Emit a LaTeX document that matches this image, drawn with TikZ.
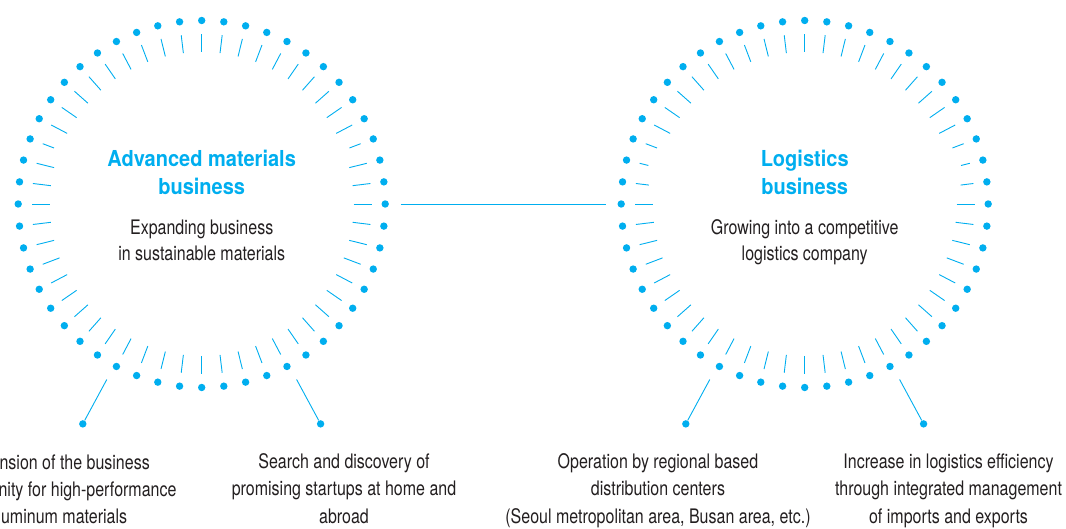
\documentclass[tikz,border=0pt]{standalone}
\usepackage{fontspec}
\newfontfamily\bodyfont{TeX Gyre Heros}[FakeStretch=0.80]
\newfontfamily\titlefont{TeX Gyre Heros}[FakeStretch=0.91]
\definecolor{cyanblue}{RGB}{0,174,239}
\definecolor{ink}{RGB}{35,31,32}
\begin{document}
\begin{tikzpicture}[x=1pt,y=1pt,
  dot/.style={circle,fill=cyanblue,inner sep=0pt,minimum size=7.4pt},
  tick/.style={draw=cyanblue,line width=0.9pt},
  link/.style={draw=cyanblue,line width=0.9pt},
  title/.style={font=\titlefont\bfseries\fontsize{22}{28.5}\selectfont,text=cyanblue,align=center,inner sep=0pt},
  sub/.style={font=\bodyfont\fontsize{20}{26.5}\selectfont,text=ink,align=center,inner sep=0pt},
  note/.style={font=\bodyfont\fontsize{20}{27.3}\selectfont,text=ink,align=center,inner sep=0pt}]
\useasboundingbox (0,0) rectangle (1066,529);
\coordinate (L) at (201.7,325);
\coordinate (R) at (804.7,325);
% left ring
\foreach \k in {0,...,51} {
  \pgfmathsetmacro\a{90-\k*6.9230769}
  \pgfmathsetmacro\rin{ifthenelse(or(equal(\k,10),equal(\k,42)),158,152)}
  \node[dot] (ld\k) at ([shift={(\a:183.5)}]L) {};
  \draw[tick] ([shift={(\a:\rin)}]L) -- ([shift={(\a:170)}]L);
}
% right ring
\foreach \k in {0,...,51} {
  \pgfmathsetmacro\a{90-\k*6.9230769}
  \pgfmathsetmacro\rin{ifthenelse(or(equal(\k,10),equal(\k,42)),158,ifthenelse(or(equal(\k,11),equal(\k,41)),161,ifthenelse(or(equal(\k,12),equal(\k,40)),157,152)))}
  \node[dot] (rd\k) at ([shift={(\a:183.5)}]R) {};
  \draw[tick] ([shift={(\a:\rin)}]R) -- ([shift={(\a:170)}]R);
}
% link between rings
\coordinate (le) at ([shift={(199,0)}]L);
\coordinate (re) at ([shift={(-199,0)}]R);
\draw[link] (le) -- (re);
% legs
\coordinate (la) at ([shift={(-118.4:199.5)}]L);
\coordinate (lc) at ([shift={(-61.6:199.5)}]L);
\coordinate (ra) at ([shift={(-118.4:199.5)}]R);
\coordinate (rc) at ([shift={(-61.6:199.5)}]R);
\node[dot] (lb) at ([shift={(-118.4:250)}]L) {};
\node[dot] (ld) at ([shift={(-61.6:250)}]L) {};
\node[dot] (rb) at ([shift={(-118.4:250)}]R) {};
\node[dot] (rdd) at ([shift={(-61.6:250)}]R) {};
\draw[link] (la) -- (lb);
\draw[link] (lc) -- (ld);
\draw[link] (ra) -- (rb);
\draw[link] (rc) -- (rdd);
% centre texts (anchor = baseline of last line)
\node[title,anchor=base] (lt) at (201.7,334) {Advanced materials\\business};
\node[sub,anchor=base] (ls) at (201.7,268.3) {Expanding business\\in sustainable materials};
\node[title,anchor=base] (rt) at (804.7,334) {Logistics\\business};
\node[sub,anchor=base] (rs) at (804.7,268.3) {Growing into a competitive\\logistics company};
% notes
\node[note,anchor=base east] (n1a) at (150,59.7) {nsion of the business};
\node[note,anchor=base east] (n1b) at (176.7,32.3) {nity for high-performance};
\node[note,anchor=base east] (n1c) at (127.3,5.7) {uminum materials};
\node[note,anchor=base] (n2) at (344,5.7) {Search and discovery of\\promising startups at home and\\abroad};
\node[note,anchor=base] (n3) at (658,5.7) {Operation by regional based\\distribution centers\\(Seoul metropolitan area, Busan area, etc.)};
\node[note,anchor=base] (n4) at (948.5,5.7) {Increase in logistics efficiency\\through integrated management\\of imports and exports};
\end{tikzpicture}
\end{document}
